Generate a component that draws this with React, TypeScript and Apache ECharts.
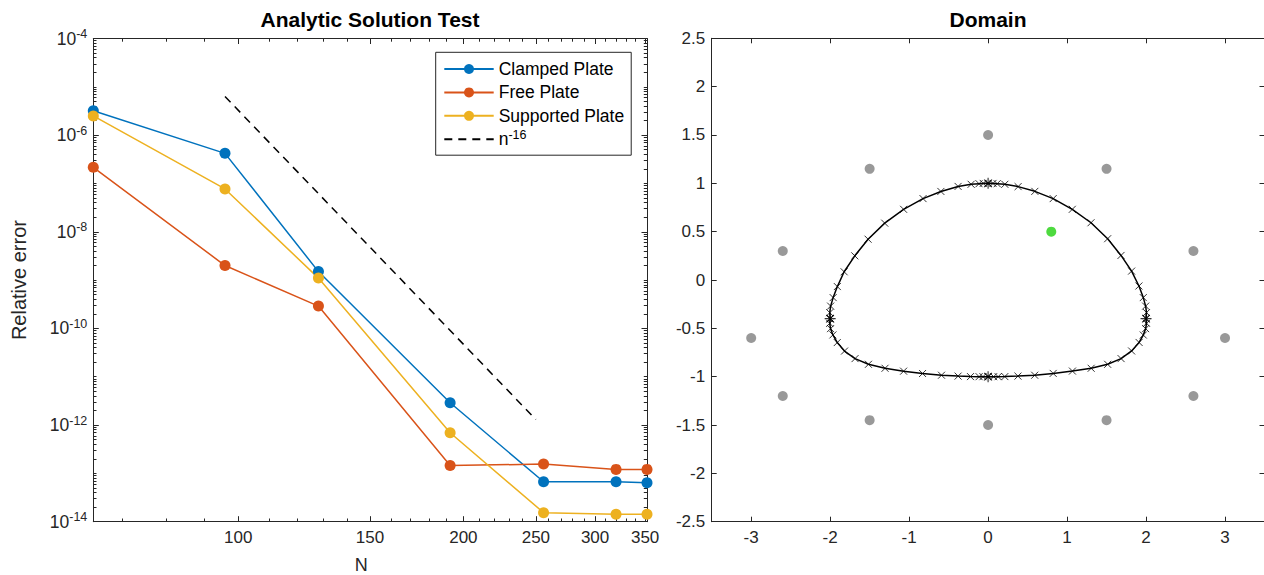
import React, { useEffect, useRef } from 'react';
import * as echarts from 'echarts';

// ---------- Left panel data ----------
const N_VALUES = [64, 96, 128, 192, 256, 320, 352];
const CLAMPED = [3.2e-6, 4.2e-7, 1.5e-9, 2.9e-12, 6.7e-14, 6.7e-14, 6.4e-14];
const FREE = [2.16e-7, 2.0e-9, 2.9e-10, 1.45e-13, 1.56e-13, 1.21e-13, 1.21e-13];
const SUPPORTED = [2.5e-6, 7.7e-8, 1.1e-9, 6.95e-13, 1.54e-14, 1.42e-14, 1.43e-14];
const REF_N = [96, 250];
const REF_ERR = [6.3e-6, 1.3e-12];
const N_RANGE = [64, 352];
const ERR_RANGE = [1e-14, 1e-4];
const N_TICKS = [100, 150, 200, 250, 300, 350];
const N_MINOR = [70, 80, 90, 110, 120, 130, 140, 160, 170, 180, 190, 210, 220, 230, 240, 260, 270, 280, 290, 310, 320, 330, 340];
const ERR_TICK_EXP = [-14, -12, -10, -8, -6, -4];

// ---------- Right panel data ----------
const COLLOC_X = [0, 1.5, -1.5, -2.6, 2.6, -3, 3, -2.6, 2.6, -1.5, 1.5, 0];
const COLLOC_Y = [1.5, 1.15, 1.15, 0.3, 0.3, -0.6, -0.6, -1.2, -1.2, -1.45, -1.45, -1.5];
const SOURCE_POINT = [0.8, 0.5];
const PANEL_ENDS = [[0, 1], [2, -0.4], [0, -1], [-2, -0.4]];
const PANEL_TOP_LEFT = [[-2.0, -0.4], [-2.005, -0.338], [-1.994, -0.27], [-1.962, -0.182], [-1.909, -0.068], [-1.823, 0.085], [-1.688, 0.25], [-1.52, 0.422], [-1.309, 0.588], [-1.07, 0.731], [-0.824, 0.842], [-0.598, 0.916], [-0.38, 0.968], [-0.215, 0.99], [-0.115, 0.996], [-0.062, 0.999], [0, 1]];
const PANEL_TOP_RIGHT = [[0.062, 0.999], [0.115, 0.996], [0.212, 0.99], [0.38, 0.966], [0.592, 0.917], [0.824, 0.842], [1.066, 0.731], [1.303, 0.592], [1.514, 0.427], [1.683, 0.254], [1.817, 0.092], [1.91, -0.062], [1.965, -0.182], [1.995, -0.27], [2.006, -0.337], [2.0, -0.4]];
const PANEL_BOTTOM_RIGHT = [[2.006, -0.448], [1.995, -0.503], [1.965, -0.569], [1.912, -0.646], [1.817, -0.734], [1.684, -0.813], [1.514, -0.872], [1.305, -0.913], [1.068, -0.942], [0.824, -0.966], [0.59, -0.985], [0.378, -0.994], [0.212, -0.999], [0.127, -1.0], [0.07, -1.0], [0, -1]];
const PANEL_BOTTOM_LEFT = [[-0.065, -1.0], [-0.114, -1.0], [-0.223, -0.999], [-0.38, -0.994], [-0.59, -0.985], [-0.83, -0.967], [-1.07, -0.943], [-1.305, -0.913], [-1.515, -0.872], [-1.685, -0.813], [-1.818, -0.735], [-1.91, -0.647], [-1.965, -0.568], [-1.995, -0.503], [-2.006, -0.448], [-2.0, -0.4]];
const DOMAIN_X_TICKS = [-3, -2, -1, 0, 1, 2, 3];
const DOMAIN_Y_TICKS = [-2.5, -2, -1.5, -1, -0.5, 0, 0.5, 1, 1.5, 2, 2.5];
const DOMAIN_X_RANGE = [-3.5, 3.5];
const DOMAIN_Y_RANGE = [-2.5, 2.5];

const FONT = '"Liberation Sans", Arial, Helvetica, sans-serif';
const INK = '#262626';
const BLUE = '#0072BD';
const ORANGE = '#D95319';
const YELLOW = '#EDB120';

const X_SYMBOL = 'path://M0,0L10,10M10,0L0,10';
const STAR_SYMBOL = 'path://M5,0L5,10M0,5L10,5M1.6,1.6L8.4,8.4M8.4,1.6L1.6,8.4';

function tickAxis(o: any) {
  return {
    type: 'value',
    gridIndex: o.gridIndex,
    position: o.position,
    min: o.min,
    max: o.max,
    axisLine: { show: o.line, onZero: false, lineStyle: { color: INK, width: 1 } },
    axisTick: { show: true, inside: true, length: o.len, customValues: o.ticks, lineStyle: { color: INK, width: 1 } },
    axisLabel: o.label ? o.label : { show: false },
    splitLine: { show: false },
    name: o.name,
    nameLocation: 'middle',
    nameGap: o.nameGap,
    nameTextStyle: o.nameTextStyle,
  };
}

export default function App() {
  const ref = useRef<HTMLDivElement>(null);

  useEffect(() => {
    if (!ref.current) return;
    const chart = echarts.init(ref.current, undefined, { renderer: 'svg' });

    const lx = (n: number) => Math.log10(n);
    const ly = (v: number) => Math.log10(v);
    const xMin = lx(N_RANGE[0]);
    const xMax = lx(N_RANGE[1]);
    const yMin = ly(ERR_RANGE[0]);
    const yMax = ly(ERR_RANGE[1]);

    const yMajor = ERR_TICK_EXP.slice();
    const yMinor: number[] = [];
    for (let e = Math.round(yMin); e < Math.round(yMax); e++) {
      for (let k = 1; k <= 9; k++) {
        if (k === 1 && ERR_TICK_EXP.indexOf(e) >= 0) continue;
        yMinor.push(e + Math.log10(k));
      }
    }
    const xMajor = N_TICKS.map(lx);
    const xMinor = N_MINOR.map(lx);

    const labelBase = { color: INK, fontFamily: FONT, fontSize: 17 };

    const xAxes = [
      tickAxis({
        gridIndex: 0, position: 'bottom', min: xMin, max: xMax, ticks: xMajor, len: 5.5, line: true,
        label: { show: true, customValues: xMajor, margin: 7, ...labelBase, formatter: (v: number) => String(Math.round(Math.pow(10, v))) },
        name: 'N', nameGap: 35, nameTextStyle: { color: INK, fontFamily: FONT, fontSize: 18, lineHeight: 17, padding: [0, 18, 0, 0] },
      }),
      tickAxis({ gridIndex: 0, position: 'top', min: xMin, max: xMax, ticks: xMajor, len: 5.5, line: true }),
      tickAxis({ gridIndex: 0, position: 'bottom', min: xMin, max: xMax, ticks: xMinor, len: 3.2, line: false }),
      tickAxis({ gridIndex: 0, position: 'top', min: xMin, max: xMax, ticks: xMinor, len: 3.2, line: false }),
      tickAxis({
        gridIndex: 1, position: 'bottom', min: DOMAIN_X_RANGE[0], max: DOMAIN_X_RANGE[1], ticks: DOMAIN_X_TICKS, len: 5, line: true,
        label: { show: true, customValues: DOMAIN_X_TICKS, margin: 7, ...labelBase, formatter: (v: number) => String(v) },
      }),
      tickAxis({ gridIndex: 1, position: 'top', min: DOMAIN_X_RANGE[0], max: DOMAIN_X_RANGE[1], ticks: DOMAIN_X_TICKS, len: 5, line: true }),
    ];

    const yAxes = [
      tickAxis({
        gridIndex: 0, position: 'left', min: yMin, max: yMax, ticks: yMajor, len: 5.5, line: true,
        label: {
          show: true, customValues: yMajor, margin: 6, ...labelBase,
          formatter: (v: number) => `{b|10}{s|${Math.round(v)}}`,
          rich: {
            b: { fontSize: 17.5, fontFamily: FONT, color: INK, lineHeight: 22, verticalAlign: 'middle' },
            s: { fontSize: 12.5, fontFamily: FONT, color: INK, verticalAlign: 'top' },
          },
        },
        name: 'Relative error', nameGap: 64, nameTextStyle: { color: INK, fontFamily: FONT, fontSize: 20 },
      }),
      tickAxis({ gridIndex: 0, position: 'right', min: yMin, max: yMax, ticks: yMajor, len: 5.5, line: true }),
      tickAxis({ gridIndex: 0, position: 'left', min: yMin, max: yMax, ticks: yMinor, len: 3.2, line: false }),
      tickAxis({ gridIndex: 0, position: 'right', min: yMin, max: yMax, ticks: yMinor, len: 3.2, line: false }),
      tickAxis({
        gridIndex: 1, position: 'left', min: DOMAIN_Y_RANGE[0], max: DOMAIN_Y_RANGE[1], ticks: DOMAIN_Y_TICKS, len: 5, line: true,
        label: { show: true, customValues: DOMAIN_Y_TICKS, margin: 6.5, ...labelBase, formatter: (v: number) => String(v) },
      }),
      tickAxis({ gridIndex: 1, position: 'right', min: DOMAIN_Y_RANGE[0], max: DOMAIN_Y_RANGE[1], ticks: DOMAIN_Y_TICKS, len: 5, line: true }),
    ];

    const errSeries = (name: string, vals: number[], color: string) => ({
      type: 'line',
      name,
      xAxisIndex: 0,
      yAxisIndex: 0,
      data: N_VALUES.map((n, i) => [lx(n), ly(vals[i])]),
      symbol: 'circle',
      symbolSize: 11,
      showSymbol: true,
      clip: false,
      lineStyle: { color, width: 1.5 },
      itemStyle: { color },
      emphasis: { disabled: true },
    });

    const boundary = [...PANEL_TOP_LEFT, ...PANEL_TOP_RIGHT, ...PANEL_BOTTOM_RIGHT, ...PANEL_BOTTOM_LEFT];

    const option: any = {
      animation: false,
      textStyle: { fontFamily: FONT },
      title: [
        { text: 'Analytic Solution Test', left: 370, top: 9, textAlign: 'center', padding: 0, textStyle: { fontFamily: FONT, fontSize: 21, fontWeight: 'bold', color: '#000', lineHeight: 21 } },
        { text: 'Domain', left: 988, top: 9, textAlign: 'center', padding: 0, textStyle: { fontFamily: FONT, fontSize: 21, fontWeight: 'bold', color: '#000', lineHeight: 21 } },
      ],
      grid: [
        { left: 93.3, top: 38.5, width: 553.7, height: 483.2, containLabel: false, outerBoundsMode: 'none' },
        { left: 711.7, top: 38.3, width: 552.8, height: 483.4, containLabel: false, outerBoundsMode: 'none' },
      ],
      legend: {
        orient: 'vertical',
        left: 435.7,
        top: 52.3,
        padding: [5.7, 7, 5, 7.6],
        itemGap: 1.4,
        itemWidth: 49.4,
        itemHeight: 12.5,
        backgroundColor: '#fff',
        borderColor: INK,
        borderWidth: 1,
        borderRadius: 0,
        selectedMode: false,
        textStyle: {
          fontFamily: FONT, fontSize: 17.5, color: '#000', lineHeight: 22,
          rich: { s: { fontFamily: FONT, fontSize: 12.5, color: '#000', verticalAlign: 'top' } },
        },
        formatter: (name: string) => (name === 'n-16' ? 'n{s|-16}' : name),
        data: ['Clamped Plate', 'Free Plate', 'Supported Plate', 'n-16'],
      },
      xAxis: xAxes,
      yAxis: yAxes,
      series: [
        errSeries('Clamped Plate', CLAMPED, BLUE),
        errSeries('Free Plate', FREE, ORANGE),
        errSeries('Supported Plate', SUPPORTED, YELLOW),
        {
          type: 'line',
          name: 'n-16',
          xAxisIndex: 0,
          yAxisIndex: 0,
          data: REF_N.map((n, i) => [lx(n), ly(REF_ERR[i])]),
          symbol: 'none',
          clip: false,
          lineStyle: { color: '#000', width: 1.5, type: [8, 6] },
          itemStyle: { color: 'rgba(0,0,0,0)', borderWidth: 0 },
          emphasis: { disabled: true },
        },
        {
          type: 'line',
          name: 'boundary',
          xAxisIndex: 4,
          yAxisIndex: 4,
          data: boundary,
          symbol: 'none',
          lineStyle: { color: '#000', width: 1.5 },
          emphasis: { disabled: true },
        },
        {
          type: 'scatter',
          name: 'nodes',
          xAxisIndex: 4,
          yAxisIndex: 4,
          data: boundary,
          symbol: X_SYMBOL,
          symbolSize: 7,
          itemStyle: { color: 'rgba(0,0,0,0)', borderColor: '#000', borderWidth: 1 },
          emphasis: { disabled: true },
        },
        {
          type: 'scatter',
          name: 'panel ends',
          xAxisIndex: 4,
          yAxisIndex: 4,
          data: PANEL_ENDS,
          symbol: STAR_SYMBOL,
          symbolSize: 11,
          itemStyle: { color: 'rgba(0,0,0,0)', borderColor: '#000', borderWidth: 1.1 },
          emphasis: { disabled: true },
        },
        {
          type: 'scatter',
          name: 'collocation',
          xAxisIndex: 4,
          yAxisIndex: 4,
          data: COLLOC_X.map((x, i) => [x, COLLOC_Y[i]]),
          symbol: 'circle',
          symbolSize: 10,
          itemStyle: { color: '#808080' },
          emphasis: { disabled: true },
        },
        {
          type: 'scatter',
          name: 'source',
          xAxisIndex: 4,
          yAxisIndex: 4,
          data: [SOURCE_POINT],
          symbol: 'circle',
          symbolSize: 10,
          itemStyle: { color: '#22D10F' },
          emphasis: { disabled: true },
        },
      ],
    };

    chart.setOption(option);
    return () => chart.dispose();
  }, []);

  return <div ref={ref} style={{ position: 'absolute', left: 0, top: 0, width: 1264, height: 575 }} />;
}
